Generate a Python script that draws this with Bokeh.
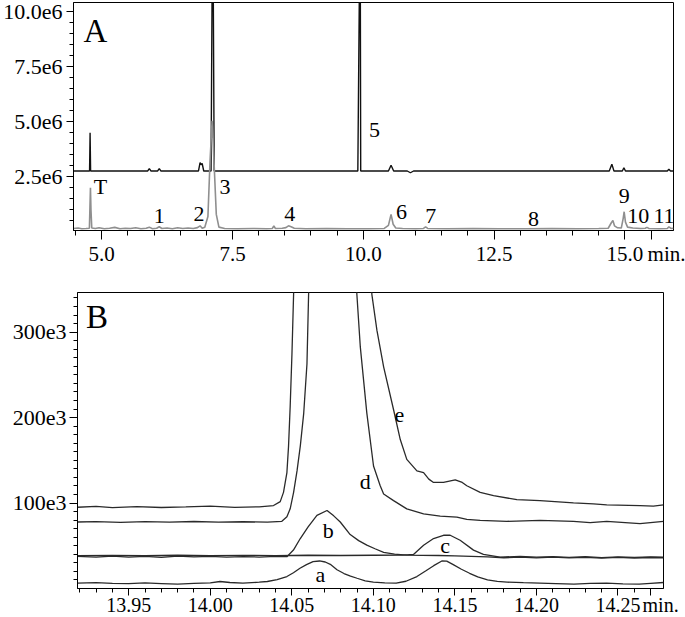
from bokeh.plotting import figure
from bokeh.models import (FixedTicker, CustomJSTickFormatter, Range1d,
                          GlobalInlineStyleSheet, ColumnDataSource, Label)
from bokeh.core.properties import value
from bokeh.embed import file_html
from bokeh.resources import INLINE

FONT = "Liberation Serif"
NB = "\u00a0"

# ---------------- Panel A data (time in min, intensity in counts) ----------------
a_gray_trace = [
    (4.461, 0.16e6), (4.55, 0.18e6), (4.62, 0.15e6), (4.70, 0.16e6), (4.765, 0.17e6),
    (4.775, 1.10e6), (4.785, 2.01e6), (4.795, 1.00e6), (4.81, 0.18e6), (4.88, 0.16e6),
    (4.95, 0.19e6), (5.05, 0.15e6), (5.15, 0.17e6), (5.25, 0.21e6), (5.35, 0.15e6),
    (5.45, 0.17e6), (5.55, 0.16e6), (5.65, 0.19e6), (5.75, 0.15e6), (5.85, 0.17e6),
    (5.91, 0.22e6), (5.97, 0.15e6), (6.05, 0.17e6), (6.10, 0.24e6), (6.15, 0.16e6),
    (6.25, 0.18e6), (6.35, 0.15e6), (6.45, 0.19e6), (6.55, 0.16e6), (6.65, 0.18e6),
    (6.75, 0.16e6), (6.83, 0.20e6), (6.88, 0.28e6), (6.92, 0.17e6), (6.97, 0.22e6),
    (7.03, 0.70e6), (7.07, 3.20e6), (7.11, 5.05e6), (7.15, 3.00e6), (7.19, 0.80e6),
    (7.24, 0.22e6), (7.35, 0.16e6), (7.60, 0.15e6), (7.90, 0.16e6), (8.15, 0.15e6),
    (8.26, 0.16e6), (8.29, 0.27e6), (8.32, 0.16e6), (8.45, 0.17e6), (8.52, 0.20e6),
    (8.57, 0.28e6), (8.62, 0.24e6), (8.68, 0.17e6), (8.90, 0.15e6), (9.30, 0.16e6),
    (9.70, 0.15e6), (10.10, 0.15e6), (10.40, 0.16e6), (10.48, 0.30e6), (10.53, 0.80e6),
    (10.57, 0.35e6), (10.62, 0.18e6), (10.75, 0.16e6), (11.00, 0.15e6), (11.15, 0.16e6),
    (11.19, 0.23e6), (11.23, 0.16e6), (11.60, 0.15e6), (12.10, 0.16e6), (12.60, 0.15e6),
    (13.10, 0.15e6), (13.60, 0.16e6), (14.10, 0.15e6), (14.50, 0.16e6), (14.68, 0.17e6),
    (14.74, 0.42e6), (14.77, 0.52e6), (14.80, 0.28e6), (14.86, 0.19e6), (14.93, 0.18e6),
    (14.965, 0.60e6), (14.985, 0.92e6), (15.01, 0.45e6), (15.05, 0.22e6), (15.15, 0.18e6),
    (15.30, 0.16e6), (15.39, 0.17e6), (15.42, 0.21e6), (15.46, 0.16e6), (15.65, 0.15e6),
    (15.81, 0.16e6), (15.84, 0.23e6), (15.88, 0.16e6), (15.928, 0.17e6),
]

a_black_trace = [
    (4.461, 2.77e6), (4.768, 2.77e6), (4.778, 4.51e6), (4.788, 2.77e6), (5.88, 2.77e6),
    (5.91, 2.88e6), (5.94, 2.77e6), (6.07, 2.77e6), (6.10, 2.88e6), (6.13, 2.77e6),
    (6.85, 2.77e6), (6.88, 3.15e6), (6.90, 3.05e6), (6.92, 3.12e6), (6.95, 2.77e6),
    (7.09, 2.77e6), (7.112, 12.0e6), (7.13, 12.0e6), (7.15, 2.77e6), (9.895, 2.77e6),
    (9.928, 12.0e6), (9.942, 12.0e6), (9.95, 2.77e6), (10.48, 2.77e6), (10.53, 3.03e6),
    (10.58, 2.77e6), (10.84, 2.77e6), (10.90, 2.69e6), (10.96, 2.77e6), (14.70, 2.77e6),
    (14.75, 3.08e6), (14.79, 2.77e6), (14.95, 2.77e6), (14.98, 2.92e6), (15.01, 2.77e6),
    (15.81, 2.77e6), (15.84, 2.85e6), (15.87, 2.77e6), (15.928, 2.77e6),
]

a_peak_names = ["T", "1", "2", "3", "4", "5", "6", "7", "8", "9", "10", "11"]
a_peak_x = [4.975, 6.099, 6.861, 7.356, 8.594, 10.213, 10.728, 11.29, 13.251, 14.985, 15.252, 15.747]
a_peak_y = [2.045e6, 0.727e6, 0.818e6, 2.045e6, 0.818e6, 4.636e6, 0.909e6, 0.727e6,
            0.591e6, 1.636e6, 0.727e6, 0.727e6]

a_x_major = [5.0, 7.5, 10.0, 12.5, 15.0]
a_x_unit_at = 15.5          # tick that carries the "min." unit text
a_y_major = [2.5e6, 5.0e6, 7.5e6, 10.0e6]

# ---------------- Panel B data (time in min, intensity in counts) ----------------
b_trace_a = [
    (13.9186, 6.3e3), (13.93, 6.8e3), (13.94, 5.9e3), (13.95, 5.7e3), (13.96, 6.5e3),
    (13.97, 5.8e3), (13.98, 5.1e3), (13.99, 6.0e3), (14.00, 6.6e3), (14.006, 8.2e3),
    (14.012, 7.0e3), (14.02, 6.3e3), (14.03, 7.4e3), (14.035, 8.2e3), (14.041, 10.5e3),
    (14.047, 14.0e3), (14.051, 18.5e3), (14.055, 23.7e3), (14.059, 28.0e3), (14.063, 31.4e3),
    (14.067, 32.2e3), (14.0705, 31.0e3), (14.0736, 28.3e3), (14.0777, 22.0e3), (14.082, 17.5e3),
    (14.086, 14.5e3), (14.090, 12.0e3), (14.095, 9.0e3), (14.100, 7.4e3), (14.107, 6.5e3),
    (14.114, 6.3e3), (14.120, 8.5e3), (14.1267, 14.0e3), (14.132, 20.5e3), (14.137, 26.7e3),
    (14.142, 32.2e3), (14.145, 32.0e3), (14.149, 27.9e3), (14.154, 22.5e3), (14.159, 17.8e3),
    (14.164, 13.5e3), (14.170, 10.1e3), (14.176, 8.4e3), (14.182, 7.4e3), (14.192, 6.8e3),
    (14.202, 6.3e3), (14.212, 5.8e3), (14.223, 5.1e3), (14.233, 5.9e3), (14.243, 6.3e3),
    (14.253, 5.4e3), (14.263, 5.1e3), (14.270, 6.0e3), (14.2779, 7.0e3),
]
b_trace_b = [
    (13.9186, 37.5e3), (13.93, 36.6e3), (13.94, 38.0e3), (13.95, 36.8e3), (13.96, 37.6e3),
    (13.97, 36.4e3), (13.98, 37.8e3), (13.99, 36.9e3), (14.00, 37.5e3), (14.01, 36.6e3),
    (14.02, 37.4e3), (14.03, 36.8e3), (14.04, 37.6e3), (14.047, 37.2e3), (14.051, 45.0e3),
    (14.0552, 58.5e3), (14.060, 72.0e3), (14.0654, 85.5e3), (14.0716, 91.3e3), (14.0757, 85.0e3),
    (14.0797, 77.8e3), (14.0858, 63.1e3), (14.091, 56.0e3), (14.096, 50.7e3), (14.101, 46.5e3),
    (14.1063, 42.2e3), (14.113, 40.3e3), (14.1205, 39.1e3), (14.13, 38.8e3), (14.14, 38.6e3),
    (14.15, 38.2e3), (14.16, 37.6e3), (14.17, 36.9e3), (14.18, 36.0e3), (14.19, 36.8e3),
    (14.20, 35.8e3), (14.21, 36.7e3), (14.22, 35.9e3), (14.23, 36.5e3), (14.24, 35.6e3),
    (14.25, 36.4e3), (14.26, 35.7e3), (14.27, 36.3e3), (14.2779, 36.0e3),
]
b_trace_c = [
    (13.9186, 38.5e3), (13.94, 38.8e3), (13.96, 38.3e3), (13.98, 38.9e3), (14.00, 38.4e3),
    (14.02, 38.8e3), (14.04, 38.5e3), (14.06, 38.9e3), (14.08, 38.6e3), (14.10, 38.9e3),
    (14.118, 39.0e3), (14.1246, 39.9e3), (14.1308, 50.7e3), (14.1369, 58.5e3), (14.143, 62.3e3),
    (14.1471, 62.3e3), (14.1532, 56.5e3), (14.1614, 44.9e3), (14.1675, 39.9e3), (14.1777, 36.8e3),
    (14.19, 37.5e3), (14.20, 36.6e3), (14.21, 37.4e3), (14.22, 36.5e3), (14.23, 37.3e3),
    (14.24, 36.2e3), (14.25, 37.0e3), (14.26, 36.4e3), (14.27, 37.1e3), (14.2779, 36.8e3),
]
b_trace_d = [
    (13.9186, 77.8e3), (13.93, 78.3e3), (13.945, 77.5e3), (13.96, 78.2e3), (13.975, 77.6e3),
    (13.99, 78.4e3), (14.005, 77.7e3), (14.02, 78.1e3), (14.035, 77.6e3), (14.0439, 78.6e3),
    (14.047, 84.0e3), (14.049, 93.2e3), (14.0511, 112.5e3), (14.0532, 137.6e3), (14.0552, 166.6e3),
    (14.0573, 205.0e3), (14.0593, 263.0e3), (14.0603, 344.6e3), (14.062, 420.0e3), (14.088, 420.0e3),
    (14.0899, 344.0e3), (14.092, 282.7e3), (14.096, 205.3e3), (14.1001, 143.4e3), (14.1042, 120.2e3),
    (14.1063, 110.6e3), (14.1124, 102.8e3), (14.1205, 93.2e3), (14.1308, 87.4e3), (14.141, 84.7e3),
    (14.1512, 83.6e3), (14.1573, 80.9e3), (14.1655, 79.7e3), (14.1818, 78.6e3), (14.2022, 79.7e3),
    (14.2227, 78.6e3), (14.2329, 77.0e3), (14.2431, 78.6e3), (14.2635, 75.9e3), (14.2779, 78.6e3),
]
b_trace_e = [
    (13.9186, 95.1e3), (13.93, 96.0e3), (13.94, 94.6e3), (13.955, 95.8e3), (13.97, 94.8e3),
    (13.985, 95.5e3), (14.00, 96.4e3), (14.015, 94.9e3), (14.03, 95.6e3), (14.0388, 97.1e3),
    (14.0429, 101.7e3), (14.0449, 112.5e3), (14.047, 135.7e3), (14.048, 166.6e3), (14.049, 213.0e3),
    (14.0501, 275.0e3), (14.0511, 344.6e3), (14.052, 420.0e3), (14.097, 420.0e3), (14.0991, 344.0e3),
    (14.1022, 302.0e3), (14.1063, 259.4e3), (14.1124, 209.2e3), (14.1165, 174.3e3), (14.1205, 151.1e3),
    (14.1267, 137.6e3), (14.1308, 135.7e3), (14.134, 128.0e3), (14.1369, 124.1e3), (14.143, 124.1e3),
    (14.1502, 127.2e3), (14.1545, 124.1e3), (14.1573, 120.2e3), (14.1655, 112.5e3), (14.1737, 108.6e3),
    (14.188, 104.0e3), (14.2022, 102.8e3), (14.2227, 100.1e3), (14.2349, 99.0e3), (14.2431, 97.8e3),
    (14.2635, 97.1e3), (14.2717, 96.4e3), (14.2779, 97.8e3),
]

b_trace_names = ["a", "b", "c", "d", "e"]
b_name_x = [14.0675, 14.0724, 14.144, 14.095, 14.1159]
b_name_y = [16.5e3, 67.6e3, 50.1e3, 125.6e3, 203.4e3]

b_x_major = [13.95, 14.00, 14.05, 14.10, 14.15, 14.20, 14.25]
b_x_unit_at = 14.27          # tick that carries the "min." unit text
b_y_major = [100e3, 200e3, 300e3]


def unzip(pairs):
    return [p[0] for p in pairs], [p[1] for p in pairs]


def style_axes(p, xmaj, xmin_t, ymaj, ymin_t, xcode, ycode,
               xout, xmout, yout, ymout, xstand, ystand, xsize, ysize):
    p.xaxis.ticker = FixedTicker(ticks=xmaj, minor_ticks=xmin_t)
    p.yaxis.ticker = FixedTicker(ticks=ymaj, minor_ticks=ymin_t)
    p.xaxis.formatter = CustomJSTickFormatter(code=xcode)
    p.yaxis.formatter = CustomJSTickFormatter(code=ycode)
    for ax in p.axis:
        ax.axis_line_color = "black"
        ax.axis_line_width = 1
        ax.major_tick_line_color = "black"
        ax.minor_tick_line_color = "black"
        ax.major_tick_in = 0
        ax.minor_tick_in = 0
        ax.major_label_text_font = FONT
        ax.major_label_text_color = "black"
    p.xaxis.major_label_text_font_size = xsize
    p.yaxis.major_label_text_font_size = ysize
    p.xaxis.major_tick_out = xout
    p.xaxis.minor_tick_out = xmout
    p.yaxis.major_tick_out = yout
    p.yaxis.minor_tick_out = ymout
    p.xaxis.major_label_standoff = xstand
    p.yaxis.major_label_standoff = ystand
    p.xgrid.visible = False
    p.ygrid.visible = False
    p.outline_line_color = "black"
    p.outline_line_width = 1
    p.outline_line_alpha = 1.0
    p.background_fill_color = "white"
    p.border_fill_color = "white"


css = GlobalInlineStyleSheet(css=(
    "html, body { margin: 0 !important; padding: 0 !important; overflow: hidden !important; }"
    " body { display: flex !important; flex-direction: column; align-items: flex-start; }"
    " body * { flex-shrink: 0 !important; }"
))

# ---------------- Figure A ----------------
pA = figure(width=685, height=268, title=None,
            x_range=Range1d(4.461, 15.928), y_range=Range1d(0.068e6, 10.42e6),
            output_backend="svg", toolbar_location=None,
            min_border_left=70, min_border_right=12, min_border_top=2, min_border_bottom=38,
            stylesheets=[css])

a_minor_x = [round(4.5 + 0.5 * k, 2) for k in range(23)]
a_minor_y = [0.5e6 * k for k in range(1, 21)]
a_xcode = ("if (tick > %s - 0.01) { return '%s' + 'min.'; } return tick.toFixed(1);"
           % (a_x_unit_at, NB * 6))
style_axes(pA, a_x_major + [a_x_unit_at], a_minor_x, a_y_major, a_minor_y,
           a_xcode, "return (tick/1e6).toFixed(1) + 'e6';",
           9, 5, 7, 4, 2, 4, "21px", "22px")

bx, by = unzip(a_black_trace)
gx, gy = unzip(a_gray_trace)
pA.line(bx, by, line_color="#111111", line_width=1.4)
pA.line(gx, gy, line_color="#8f8f8f", line_width=1.6)

srcA = ColumnDataSource(dict(x=a_peak_x, y=a_peak_y, t=a_peak_names))
pA.text(x="x", y="y", text="t", source=srcA, text_font=value(FONT),
        text_font_size="22px", text_align="center", text_baseline="middle",
        text_color="black")
pA.add_layout(Label(x=4.88, y=9.136e6, text="A", text_font=FONT, text_font_size="33px",
                    text_align="center", text_baseline="middle", text_color="black"))

# ---------------- Figure B ----------------
pB = figure(width=685, height=350, title=None,
            x_range=Range1d(13.9186, 14.2779), y_range=Range1d(0, 346.4e3),
            output_backend="svg", toolbar_location=None,
            min_border_left=77, min_border_right=22, min_border_top=24, min_border_bottom=28)

b_minor_x = [round(13.92 + 0.01 * k, 2) for k in range(36)]
b_minor_y = [10e3 * k for k in range(1, 35)]
b_xcode = ("if (tick > %s - 0.005) { return '%s' + 'min.'; } return tick.toFixed(2);"
           % (b_x_unit_at, NB * 4))
style_axes(pB, b_x_major + [b_x_unit_at], b_minor_x, b_y_major, b_minor_y,
           b_xcode, "return (tick/1e3).toFixed(0) + 'e3';",
           7, 4, 8, 4, -2, 3, "20px", "22px")

for tr in [b_trace_a, b_trace_b, b_trace_c, b_trace_d, b_trace_e]:
    tx, ty = unzip(tr)
    pB.line(tx, ty, line_color="#2a2a2a", line_width=1.3)

srcB = ColumnDataSource(dict(x=b_name_x, y=b_name_y, t=b_trace_names))
pB.text(x="x", y="y", text="t", source=srcB, text_font=value(FONT),
        text_font_size="22px", text_align="center", text_baseline="middle",
        text_color="black")
pB.add_layout(Label(x=13.9306, y=317.5e3, text="B", text_font=FONT, text_font_size="33px",
                    text_align="center", text_baseline="middle", text_color="black"))

open("out.html", "w").write(file_html([pA, pB], INLINE))
